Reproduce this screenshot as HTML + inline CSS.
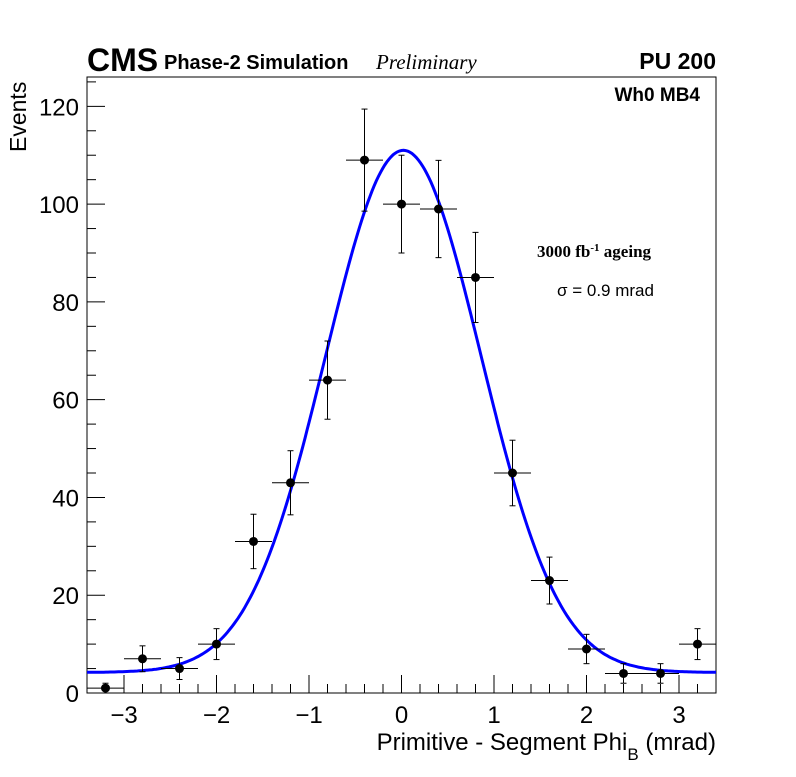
<!DOCTYPE html>
<html><head><meta charset="utf-8"><style>
body{margin:0;background:#fff;}
svg text{font-family:"Liberation Sans",sans-serif;}
</style></head><body>
<svg id="chart" width="796" height="772" xmlns="http://www.w3.org/2000/svg">
<rect x="87" y="77" width="629" height="616" fill="none" stroke="#000" stroke-width="1"/>
<g id="xticks"></g>
<g id="yticks"></g>
<path id="fit" fill="none" stroke="#0000ff" stroke-width="3"/>
<g id="points"></g>
<text x="87" y="71" font-size="32" font-weight="bold">CMS</text>
<text x="164" y="69" font-size="20" font-weight="bold">Phase-2 Simulation</text>
<text x="376" y="69" font-size="21" font-style="italic" style="font-family:'Liberation Serif',serif">Preliminary</text>
<text x="716" y="69" font-size="23" font-weight="bold" text-anchor="end">PU 200</text>
<text x="700" y="101" font-size="19" font-weight="bold" text-anchor="end">Wh0 MB4</text>
<text x="537" y="257" font-size="17" font-weight="bold" style="font-family:'Liberation Serif',serif">3000 fb<tspan dy="-6" font-size="11">-1</tspan><tspan dy="6"> ageing</tspan></text>
<text x="557" y="296" font-size="17">σ = 0.9 mrad</text>
<text x="716" y="750" font-size="24" text-anchor="end">Primitive - Segment Phi<tspan dy="10" font-size="17">B</tspan><tspan dy="-10"> (mrad)</tspan></text>
<text transform="translate(26,152) rotate(-90)" font-size="23">Events</text>
</svg>
<script>
const xCenters=[-3.2,-2.8,-2.4,-2.0,-1.6,-1.2,-0.8,-0.4,0,0.4,0.8,1.2,1.6,2.0,2.4,2.8,3.2];
const counts=[1,7,5,10,31,43,64,109,100,99,85,45,23,9,4,4,10];
const xTickLabels=[-3,-2,-1,0,1,2,3];
const yTickLabels=[0,20,40,60,80,100,120];
const fitParams=[4.2,106.8,0.02,0.84];
const NS="http://www.w3.org/2000/svg";
const X0=87,X1=716,Y0=693,Y1=77,XMIN=-3.4,XMAX=3.4,YMAX=126;
const sx=v=>X0+(v-XMIN)/(XMAX-XMIN)*(X1-X0);
const sy=v=>Y0-v/YMAX*(Y0-Y1);
function mk(t,a,p){const e=document.createElementNS(NS,t);for(const k in a)e.setAttribute(k,a[k]);p.appendChild(e);return e;}
const xt=document.getElementById('xticks');
for(let v=-3.4;v<=3.41;v+=0.2){const r=Math.round(v*10)/10;const major=Math.abs(r-Math.round(r))<1e-6;
const l=mk('line',{x1:sx(r),x2:sx(r),y1:Y0,y2:Y0-(major?18:9),stroke:'#000'},xt);

}
xTickLabels.forEach(v=>{const t=mk('text',{x:sx(v),y:723,'font-size':24,'text-anchor':'middle'},xt);t.textContent=v<0?'\u2212'+(-v):v;

});
const yt=document.getElementById('yticks');
for(let v=0;v<=125;v+=5){const major=v%20===0;
const l=mk('line',{x1:X0,x2:X0+(major?18:9),y1:sy(v),y2:sy(v),stroke:'#000'},yt);

}
yTickLabels.forEach(v=>{const t=mk('text',{x:79,y:sy(v)+9,'font-size':24,'text-anchor':'end'},yt);t.textContent=v;

});
const [c,A,mu,s]=fitParams;let d='';
for(let i=0;i<=300;i++){const x=XMIN+(XMAX-XMIN)*i/300;const y=c+A*Math.exp(-((x-mu)**2)/(2*s*s));d+=(i?'L':'M')+sx(x).toFixed(1)+','+sy(y).toFixed(1);}
document.getElementById('fit').setAttribute('d',d);
const pg=document.getElementById('points');
xCenters.forEach((x,i)=>{const n=counts[i],e=Math.sqrt(n);const g=mk('g',{},pg);


mk('line',{x1:sx(x-0.2),x2:sx(x+0.2),y1:sy(n),y2:sy(n),stroke:'#000'},g);
mk('line',{x1:sx(x),x2:sx(x),y1:sy(n-e),y2:sy(n+e),stroke:'#000'},g);
[n-e,n+e].forEach(v=>mk('line',{x1:sx(x)-3,x2:sx(x)+3,y1:sy(v),y2:sy(v),stroke:'#000'},g));
mk('circle',{cx:sx(x),cy:sy(n),r:4.5,fill:'#000'},g);});
</script>
</body></html>
